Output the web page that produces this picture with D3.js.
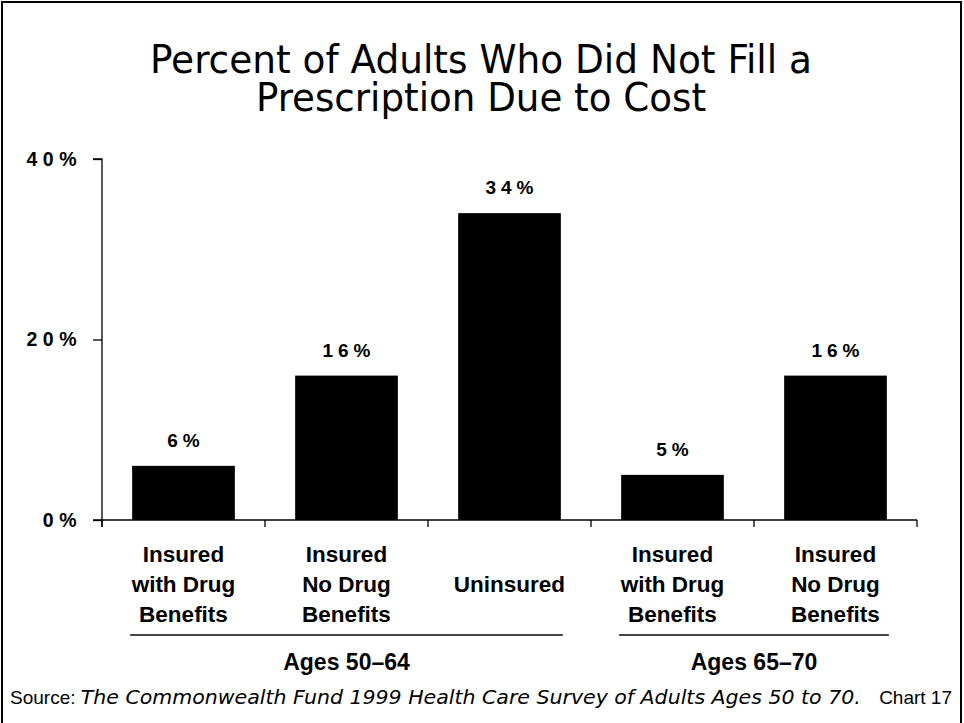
<!DOCTYPE html>
<html><head><meta charset="utf-8">
<script src="https://cdn.jsdelivr.net/npm/d3@7"></script>
<style>
body{margin:0;background:#fff;}
svg{display:block;}
</style></head>
<body>
<svg id="chart" width="964" height="723"></svg>
<script>
const categories = [
  ["Insured","with Drug","Benefits"],
  ["Insured","No Drug","Benefits"],
  ["Uninsured"],
  ["Insured","with Drug","Benefits"],
  ["Insured","No Drug","Benefits"]
];
const values = [6, 16, 34, 5, 16];
const valueLabels = ["6%", "16%", "34%", "5%", "16%"];
const yTicks = [0, 20, 40];
const yTickLabels = ["0%", "20%", "40%"];
const groups = [
  {label: "Ages 50\u201364", from: 0, to: 2},
  {label: "Ages 65\u201370", from: 3, to: 4}
];
const titleLines = ["Percent of Adults Who Did Not Fill a", "Prescription Due to Cost"];

const FONT = "'Liberation Sans',Arial,Helvetica,sans-serif";
const COND = "'DejaVu Sans Condensed','Liberation Sans',sans-serif";
const svg = d3.select("#chart");
svg.append("rect").attr("x", 2).attr("y", 2).attr("width", 959).attr("height", 740)
  .attr("fill", "none").attr("stroke", "#000").attr("stroke-width", 2);

const x = d3.scaleBand().domain(d3.range(values.length)).range([102, 917]).paddingInner(0.37).paddingOuter(0.185);
const y = d3.scaleLinear().domain([0, 40]).range([520, 159]);

// title (one text element, two lines)
svg.append("text")
  .attr("text-anchor", "middle")
  .attr("font-family", COND).attr("font-stretch", "condensed")
  .attr("font-size", 39)
  .selectAll("tspan").data(titleLines).join("tspan")
  .attr("x", 481).attr("y", (d, i) => 73 + i * 38)
  .attr("textLength", (d, i) => i === 0 ? 662 : 450)
  .attr("lengthAdjust", "spacingAndGlyphs")
  .text(d => d);

// bars
svg.append("g").selectAll("rect").data(values).join("rect")
  .attr("x", (d, i) => x(i)).attr("width", x.bandwidth())
  .attr("y", d => y(d)).attr("height", d => y(0) - y(d))
  .attr("fill", "#000");

// value labels
const LS = 5;
svg.append("g").selectAll("text").data(values).join("text")
  .attr("x", (d, i) => x(i) + x.bandwidth() / 2 + LS / 2)
  .attr("y", d => y(d) - 19)
  .attr("text-anchor", "middle")
  .attr("font-family", FONT)
  .attr("font-weight", "bold").attr("font-size", 19)
  .attr("letter-spacing", LS)
  .text((d, i) => valueLabels[i]);

// y axis
const yAxis = d3.axisLeft(y).tickValues(yTicks).tickSize(9).tickPadding(16 - LS)
  .tickFormat((d, i) => yTickLabels[i]);
const gy = svg.append("g").attr("transform", "translate(102,0)").call(yAxis);
gy.select(".domain").attr("d", "M-9,159H0V527");
gy.selectAll("text").attr("font-family", FONT)
  .attr("font-weight", "bold").attr("font-size", 19.5).attr("letter-spacing", LS + 0.5).attr("fill", "#000");
gy.selectAll("line, path").attr("stroke", "#000").attr("stroke-width", 1.3);

// x axis line with ticks at band boundaries
const step = x.step();
const xBounds = d3.range(values.length + 1).map(i => x(0) - x.paddingOuter() * step + i * step);
const gx = svg.append("g");
gx.append("line").attr("x1", 93).attr("x2", 917).attr("y1", 520).attr("y2", 520)
  .attr("stroke", "#000").attr("stroke-width", 1.3);
gx.selectAll("line.t").data(xBounds).join("line").attr("class", "t")
  .attr("x1", d => d).attr("x2", d => d).attr("y1", 520).attr("y2", 527)
  .attr("stroke", "#000").attr("stroke-width", 1.3);

// category labels
const cat = svg.append("g");
categories.forEach((lines, i) => {
  const cx = x(i) + x.bandwidth() / 2;
  const startY = lines.length === 1 ? 592 : 562;
  cat.append("text").attr("text-anchor", "middle")
    .attr("font-family", FONT)
    .attr("font-weight", "bold").attr("font-size", 22.5)
    .selectAll("tspan").data(lines).join("tspan")
    .attr("x", cx).attr("y", (d, j) => startY + j * 30).text(d => d);
});

// group lines and labels
groups.forEach(g => {
  const x1 = x(g.from) - 2, x2 = x(g.to) + x.bandwidth() + 2;
  svg.append("line").attr("x1", x1).attr("x2", x2).attr("y1", 635).attr("y2", 635)
    .attr("stroke", "#444").attr("stroke-width", 1.8);
  svg.append("text").attr("x", (x1 + x2) / 2).attr("y", 670).attr("text-anchor", "middle")
    .attr("font-family", FONT)
    .attr("font-weight", "bold").attr("font-size", 23).text(g.label);
});

// footer
const foot = svg.append("text").attr("x", 10).attr("y", 704)
  .attr("font-family", FONT).attr("font-size", 19);
foot.append("tspan").text("Source: ");
foot.append("tspan").attr("font-style", "italic")
  .attr("font-family", COND).attr("font-size", 20)
  .attr("textLength", 780).attr("lengthAdjust", "spacingAndGlyphs")
  .text("The Commonwealth Fund 1999 Health Care Survey of Adults Ages 50 to 70.");
svg.append("text").attr("x", 952).attr("y", 704).attr("text-anchor", "end")
  .attr("font-family", FONT).attr("font-size", 19).text("Chart 17");
</script>
</body></html>
